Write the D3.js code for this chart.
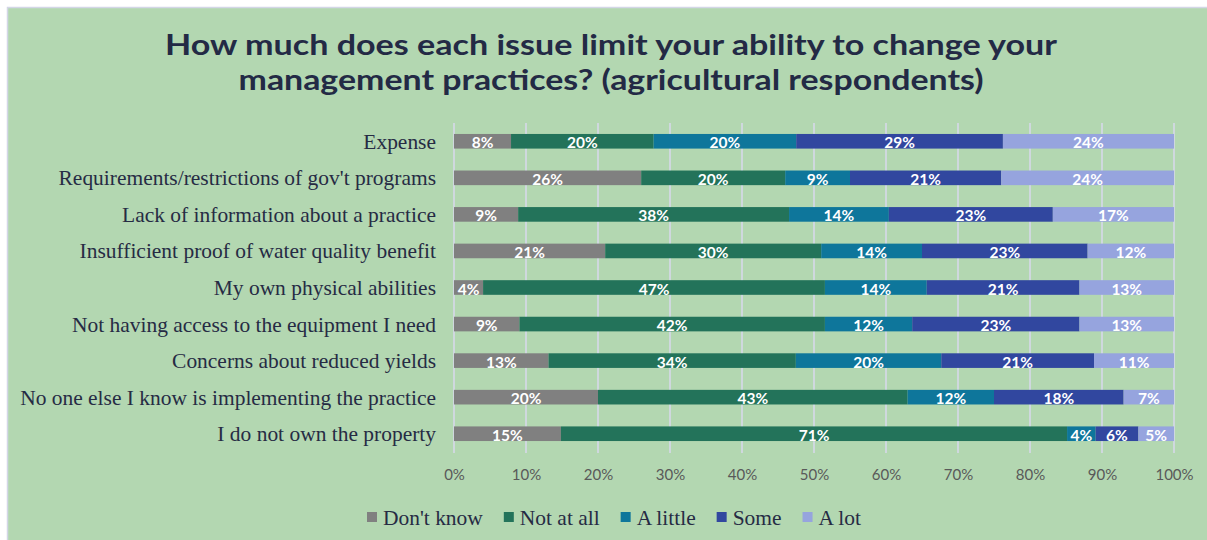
<!DOCTYPE html>
<html>
<head>
<meta charset="utf-8">
<script src="https://cdn.jsdelivr.net/npm/d3@7/dist/d3.min.js"></script>
<style>
  html, body { margin: 0; padding: 0; background: #ffffff; }
  svg { display: block; }
</style>
</head>
<body>
<svg id="chart" width="1207" height="540"></svg>
<script>
// ---- Data ----
const categories = [
  "Expense",
  "Requirements/restrictions of gov't programs",
  "Lack of information about a practice",
  "Insufficient proof of water quality benefit",
  "My own physical abilities",
  "Not having access to the equipment I need",
  "Concerns about reduced yields",
  "No one else I know is implementing the practice",
  "I do not own the property"
];
const seriesNames = ["Don't know", "Not at all", "A little", "Some", "A lot"];
const dontKnow = [8, 26, 9, 21, 4, 9, 13, 20, 15];
const notAtAll = [20, 20, 38, 30, 47, 42, 34, 43, 71];
const aLittle  = [20, 9, 14, 14, 14, 12, 20, 12, 4];
const some     = [29, 21, 23, 23, 21, 23, 21, 18, 6];
const aLot     = [24, 24, 17, 12, 13, 13, 11, 7, 5];
const tickValues = [0, 0.1, 0.2, 0.3, 0.4, 0.5, 0.6, 0.7, 0.8, 0.9, 1.0];
const titleLines = [
  "How much does each issue limit your ability to change your",
  "management practices? (agricultural respondents)"
];
const colors = ["#808080", "#23735a", "#0e769b", "#31479f", "#96a4de"];

// ---- Build table ----
const seriesArrays = [dontKnow, notAtAll, aLittle, some, aLot];
const table = categories.map((c, i) => {
  const row = { category: c };
  seriesNames.forEach((s, j) => { row[s] = seriesArrays[j][i]; });
  return row;
});

const svg = d3.select("#chart");
const W = 1207, H = 540;

// background frame
svg.append("rect").attr("x", 0).attr("y", 0).attr("width", W).attr("height", H).attr("fill", "#ffffff");
svg.append("rect")
  .attr("x", 7.5).attr("y", 7.5).attr("width", W + 10).attr("height", H + 10)
  .attr("fill", "#b3d7b1").attr("stroke", "#d3d6e6").attr("stroke-width", 1.5);

// title
const titleG = svg.append("g");
const titleWidths = [892, 745];
const titleY = [55, 90];
titleLines.forEach((t, i) => {
  titleG.append("text")
    .attr("x", 611).attr("y", titleY[i])
    .attr("text-anchor", "middle")
    .attr("font-family", "Lato, sans-serif")
    .attr("font-weight", 700)
    .attr("font-size", 28.5)
    .attr("fill", "#232a45")
    .attr("textLength", titleWidths[i])
    .attr("lengthAdjust", "spacingAndGlyphs")
    .text(t);
});

// scales
const x = d3.scaleLinear().domain([0, 1]).range([454, 1174]);
const y = d3.scaleBand().domain(categories).range([123, 452]).paddingInner(0.6).paddingOuter(0.3);
const color = d3.scaleOrdinal().domain(seriesNames).range(colors);

// gridlines
svg.append("g").selectAll("line").data(tickValues).join("line")
  .attr("x1", d => x(d)).attr("x2", d => x(d))
  .attr("y1", 123).attr("y2", 453)
  .attr("stroke", "#d9d9ee").attr("stroke-width", 1.5);

// x axis labels
const xAxis = d3.axisBottom(x).tickValues(tickValues).tickFormat(d3.format(".0%")).tickSize(0).tickPadding(0);
const xg = svg.append("g").attr("transform", "translate(0,469)").call(xAxis);
xg.select(".domain").remove();
xg.selectAll("text")
  .attr("font-family", "Lato, sans-serif")
  .attr("font-size", 15)
  .attr("fill", "#595959");

// stacked
const stack = d3.stack().keys(seriesNames).offset(d3.stackOffsetExpand);
const stacked = stack(table);

const layers = svg.append("g").selectAll("g").data(stacked).join("g")
  .attr("fill", d => color(d.key));
layers.selectAll("rect").data(d => d).join("rect")
  .attr("x", d => x(d[0]))
  .attr("width", d => x(d[1]) - x(d[0]))
  .attr("y", d => y(d.data.category))
  .attr("height", y.bandwidth());

// data labels
const lbl = svg.append("g");
stacked.forEach(layer => {
  layer.forEach(d => {
    lbl.append("text")
      .attr("x", (x(d[0]) + x(d[1])) / 2)
      .attr("y", y(d.data.category) + y.bandwidth() / 2 + 1)
      .attr("text-anchor", "middle")
      .attr("dominant-baseline", "central")
      .attr("font-family", "Lato, sans-serif")
      .attr("font-weight", 700)
      .attr("font-size", 15.5)
      .attr("fill", "#ffffff")
      .text(d.data[layer.key] + "%");
  });
});

// category labels
const yAxis = d3.axisLeft(y).tickSize(0).tickPadding(0);
const yg = svg.append("g").attr("transform", "translate(436,0)").call(yAxis);
yg.select(".domain").remove();
yg.selectAll("text")
  .attr("font-family", "'Liberation Serif', serif")
  .attr("font-size", 19)
  .attr("fill", "#262b44")
  .attr("dy", "0.35em");
// fit longest label width to reference (~416px)
let maxW = 0;
yg.selectAll("text").each(function() { maxW = Math.max(maxW, this.getComputedTextLength()); });
const catSize = 19 * 416 / maxW;
yg.selectAll("text").attr("font-size", catSize);

// legend
const legend = svg.append("g");
let lx = 367;
const ly = 517;
seriesNames.forEach((s, i) => {
  const g = legend.append("g");
  g.append("rect").attr("x", lx).attr("y", ly - 5).attr("width", 10).attr("height", 10).attr("fill", color(s));
  const t = g.append("text")
    .attr("x", lx + 16).attr("y", ly)
    .attr("dy", "0.35em")
    .attr("font-family", "'Liberation Serif', serif")
    .attr("font-size", catSize)
    .attr("fill", "#262b44")
    .text(s);
  lx += 16 + t.node().getComputedTextLength() + 21;
});
</script>
</body>
</html>
